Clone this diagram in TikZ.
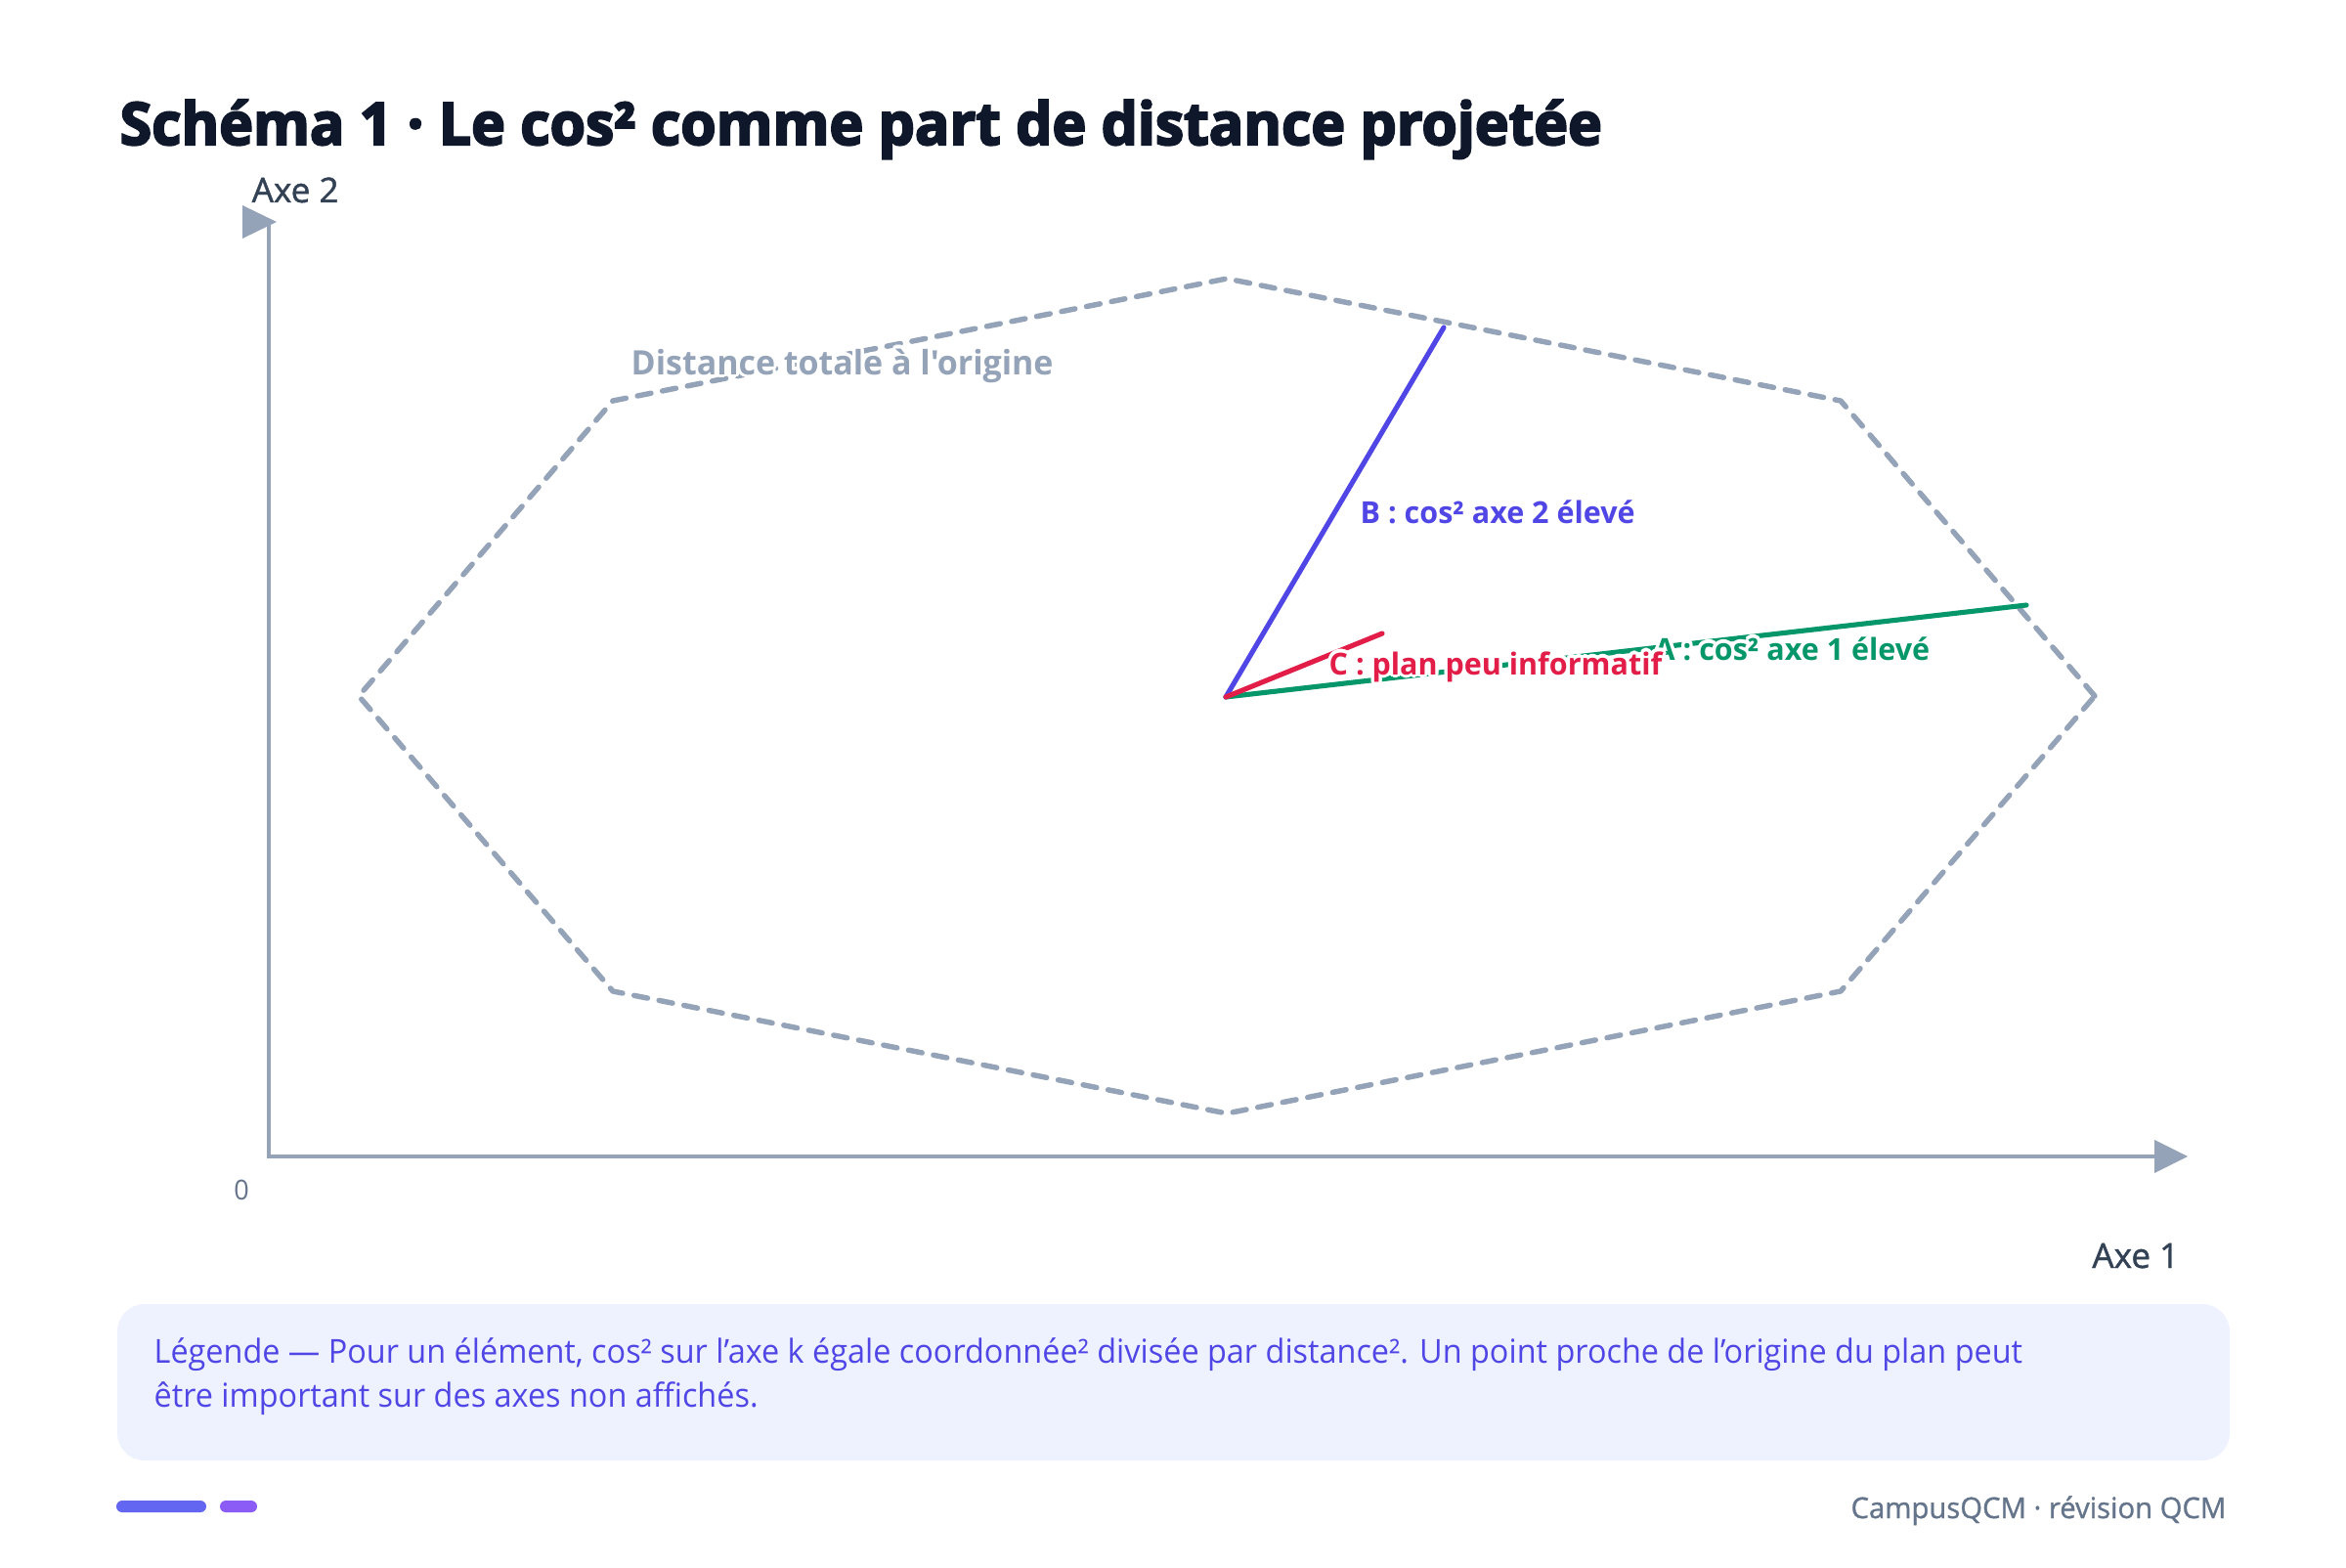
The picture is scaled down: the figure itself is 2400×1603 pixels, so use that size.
\documentclass[tikz,border=0pt]{standalone}
\usepackage{fontspec}
\setmainfont{Open Sans}[FakeStretch=0.96]
\newfontfamily\labf{Open Sans}[FakeStretch=0.985]
\newfontfamily\semib{Open Sans}[FakeStretch=1.0, FakeBold=1.2]
\newfontfamily\footf{Open Sans}[FakeStretch=0.99, FakeBold=1]
\newfontfamily\heavy{Open Sans}[FakeStretch=0.98, UprightFeatures={FakeBold=3.5}, BoldFeatures={FakeBold=3.5}]
\usepackage[copies]{contour}
\contourlength{0.9pt}
\definecolor{axisgray}{HTML}{94A3B8}
\definecolor{titlec}{HTML}{0F172A}
\definecolor{axlab}{HTML}{334155}
\definecolor{zeroc}{HTML}{64748B}
\definecolor{blueB}{HTML}{4F46E5}
\definecolor{greenA}{HTML}{059669}
\definecolor{redC}{HTML}{E11D48}
\definecolor{legbg}{HTML}{EEF2FF}
\definecolor{legtext}{HTML}{4F46E5}
\definecolor{barone}{HTML}{6366F1}
\definecolor{bartwo}{HTML}{8B5CF6}
\definecolor{footc}{HTML}{64748B}
\begin{document}
\begin{tikzpicture}[x=0.01cm,y=-0.01cm,
  axisline/.style={draw=axisgray, line width=1.2pt, line join=miter},
  octo/.style={draw=axisgray, line width=1.55pt, dash pattern=on 4pt off 3.4pt, line cap=round, line join=round},
  vec/.style={line width=1.45pt, line cap=round},
  veclab/.style={anchor=base west, inner sep=0pt, font=\fontsize{8.8pt}{10pt}\labf\bfseries},
  axlabel/.style={inner sep=0pt, text=axlab, font=\fontsize{10pt}{11pt}\semib},
  legline/.style={anchor=base west, inner sep=0pt, text=legtext, font=\fontsize{9.6pt}{11pt}\selectfont},
]
\useasboundingbox (0,0) rectangle (2400,1603);
\fill[white] (0,0) rectangle (2400,1603);

% title
\node[anchor=base west, inner sep=0pt, text=titlec, font=\fontsize{17.1pt}{20pt}\heavy\bfseries] (title) at (122,148) {Schéma 1 · Le cos² comme part de distance projetée};

% axes
\coordinate (orig) at (275,1183);
\coordinate (xend) at (2210,1183);
\coordinate (yend) at (275,229);
\draw[axisline] (xend) -- (orig) -- (yend);
\fill[axisgray] (2204,1166) -- (2238,1183) -- (2204,1200) -- cycle;
\fill[axisgray] (248,210) -- (283,227) -- (248,244) -- cycle;
\node[axlabel, anchor=base west] (ax2) at (257,207) {Axe 2};
\node[axlabel, anchor=base east] (ax1) at (2230,1297) {Axe 1};
\node[anchor=base, inner sep=0pt, text=zeroc, font=\fontsize{8pt}{9pt}\selectfont] (zero) at (247,1227) {0};

% octagon
\coordinate (p0) at (2143,712);
\coordinate (p1) at (1883,410);
\coordinate (p2) at (1255,285);
\coordinate (p3) at (627,410);
\coordinate (p4) at (367,712);
\coordinate (p5) at (627,1014);
\coordinate (p6) at (1255,1139);
\coordinate (p7) at (1883,1014);
\draw[octo] (p0) -- (p1) -- (p2) -- (p3) -- (p4) -- (p5) -- (p6) -- (p7) -- cycle;

% vectors
\coordinate (O) at (1254,713);
\coordinate (A) at (2073,619);
\coordinate (B) at (1477,335);
\coordinate (C) at (1414,648);
\draw[vec, greenA] (O) -- (A);
\draw[vec, blueB] (O) -- (B);
\draw[vec, redC] (O) -- (C);

% labels
\node[inner sep=0pt, anchor=base west, text=axisgray, font=\fontsize{9.8pt}{11pt}\labf\bfseries] (dist) at (645,383) {\contour{white}{Distance totale à l'origine}};
\node[veclab, text=blueB] (labB) at (1391,535) {\contour{white}{B : cos² axe 2 élevé}};
\node[veclab, text=greenA] (labA) at (1692,675) {\contour{white}{A : cos² axe 1 élevé}};
\node[veclab, text=redC] (labC) at (1359,690) {\contour{white}{C : plan peu informatif}};

% legend
\fill[legbg, rounded corners=8pt] (120,1334) rectangle (2281,1494);
\node[legline] (leg1) at (157,1394) {Légende — Pour un élément, cos² sur l'axe k égale coordonnée² divisée par distance². Un point proche de l'origine du plan peut};
\node[legline] (leg2) at (157,1439) {être important sur des axes non affichés.};

% footer
\fill[barone, rounded corners=1.7pt] (119,1535) rectangle (211,1547);
\fill[bartwo, rounded corners=1.7pt] (225,1535) rectangle (263,1547);
\node[anchor=base east, inner sep=0pt, text=footc, font=\fontsize{8.4pt}{10pt}\footf] (foot) at (2278,1553) {CampusQCM · révision QCM};
\end{tikzpicture}
\end{document}
